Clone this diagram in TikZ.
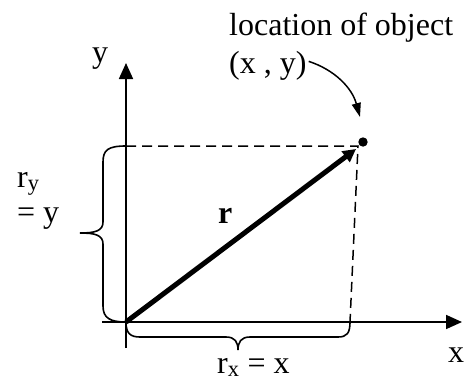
\documentclass[tikz,border=0pt]{standalone}
\usepackage{fontspec}
\setmainfont{Liberation Serif}
\usetikzlibrary{arrows.meta}
\begin{document}
\begin{tikzpicture}[x=1pt,y=-1pt,
  axis/.style={line width=1.7pt,-{Triangle[length=16pt,width=14pt]}},
  guide/.style={line width=1.5pt,dash pattern=on 10pt off 6pt},
  brace/.style={line width=1.6pt},
  lbl/.style={font=\fontsize{32}{36}\selectfont, inner sep=0pt, anchor=base west},
  vec/.style={line width=5pt,-{Triangle[length=13pt,width=13pt]}},
  pointer/.style={line width=1.5pt,-{Triangle[length=14pt,width=9pt]}}]
\useasboundingbox (0,0) rectangle (470,383);
% coordinates
\coordinate (O) at (126,322);
\coordinate (ytop) at (126,63);
\coordinate (ybot) at (126,348);
\coordinate (xleft) at (102,322);
\coordinate (xright) at (462,322);
\coordinate (P) at (363,142);
\coordinate (Pv) at (356,149);
\coordinate (Ph) at (358,146);
\coordinate (Yh) at (126,146);
\coordinate (Xb) at (350,322);
% axes
\draw[axis] (ybot) -- (ytop);
\draw[axis] (xleft) -- (xright);
% dashed guides
\draw[guide] (Yh) -- (Ph) -- (Xb);
% vector
\draw[vec] (O) -- (Pv);
\fill (P) circle (4.7pt);
% left brace
\draw[brace] (Yh) .. controls (108,146) and (103,150) .. (103,162) -- (103,222)
  .. controls (103,231) and (95,233) .. (80,233)
  .. controls (95,233) and (103,235) .. (103,244) -- (103,306)
  .. controls (103,318) and (110,322) .. (O);
% bottom brace
\draw[brace] (O) .. controls (126,333) and (130,337) .. (140,337) -- (226,337)
  .. controls (235,337) and (238,342) .. (238,350)
  .. controls (238,342) and (241,337) .. (250,337) -- (338,337)
  .. controls (347,337) and (350,333) .. (Xb);
% labels
\node[lbl] (ylab) at (92,62) {y};
\node[lbl] (xlab) at (448,362) {x};
\node[lbl] (loc) at (229,35) {location of object};
\node[lbl] (xy) at (229,73) {(x , y)};
\node[lbl] (ry) at (17,187) {r\textsubscript{y}};
\node[lbl] (eqy) at (17,222) {= y};
\node[lbl,font=\fontsize{32}{36}\selectfont\bfseries] (r) at (218,223) {r};
\node[lbl] (rx) at (217,373) {r\textsubscript{x} = x};
% pointer
\draw[pointer] (xy.east) ++(2,-4) .. controls (335,70) and (352,88) .. (360,117);
\end{tikzpicture}
\end{document}
